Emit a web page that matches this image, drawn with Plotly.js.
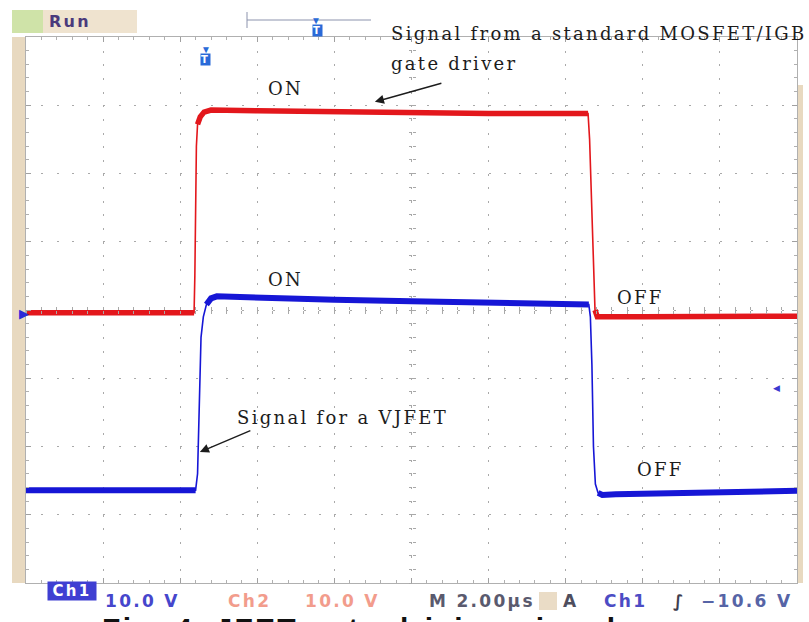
<!DOCTYPE html>
<html><head><meta charset="utf-8">
<script src="https://cdn.plot.ly/plotly-3.0.1.min.js"></script>
<style>
html,body{margin:0;padding:0;background:#fff;overflow:hidden;}
#chart{width:809px;height:622px;}
.annotation-text{letter-spacing:2.3px;}
</style></head><body><div id="chart"></div>
<script>
// Oscilloscope capture: time in µs (2 µs/div), voltage in V (10 V/div)
const redTime  = [0, 4.36, 4.38, 4.42, 4.45, 4.52, 4.62, 4.80, 6.0, 8.0, 10.0, 12.0, 14.0, 14.58, 14.62, 14.69, 14.76, 14.82, 16.0, 18.0, 20.0];
const redVolt  = [-0.4, -0.4, 5, 24, 27.2, 28.3, 29.0, 29.3, 29.2, 29.0, 28.9, 28.8, 28.8, 28.8, 25, 12, 0, -1.0, -1.0, -0.9, -0.9];
const blueTime = [0, 4.40, 4.45, 4.50, 4.54, 4.60, 4.68, 4.80, 4.95, 5.5, 6.0, 8.0, 10.0, 12.0, 14.0, 14.60, 14.64, 14.68, 14.72, 14.77, 14.84, 14.95, 15.3, 16.0, 18.0, 20.0];
const blueVolt = [-26.4, -26.4, -24, -12, -4, -1, 0.8, 1.7, 2.0, 1.9, 1.8, 1.5, 1.3, 1.1, 0.9, 0.8, -1, -8, -20, -25.5, -26.8, -27.1, -27.0, -26.9, -26.7, -26.5];

const labelText = ['ON', 'ON', 'OFF', 'OFF', 'Signal for a VJFET'];
const labelTime = [6.74, 6.74, 15.93, 16.45, 5.42];
const labelVolt = [32.4, 4.5, 1.9, -23.3, -15.7];
const labelAnchor = ['center', 'center', 'center', 'center', 'left'];

const calloutText = ['Signal from a standard MOSFET/IGB', 'gate driver'];
const arrowTime = [4.51, 9.05];
const arrowVolt = [-20.8, 30.5];

const statusText = ['10.0 V', 'Ch2', '10.0 V', 'M 2.00µs', 'A', 'Ch1', '∫', '−10.6 V'];
const statusColor = ['#4646cc', '#f29c8c', '#f29c8c', '#5a5a6e', '#4e4e5e', '#4c4cc4', '#3e3e4e', '#5664a6'];
const statusLeft = [103, 226, 303, 427, 561, 602, 671, 699];

const RANGE_T = [0, 20], RANGE_V = [-40, 40];
const X = px => (px - 26) / 771;
const Y = py => (583 - py) / 546;

// split off the flat (noisy, thick) parts of each trace from the thin edges
function flatPart(v) {
  const mx = Math.max(...v), mn = Math.min(...v);
  return v.map(a => (a >= mx - 2.6 || a <= mn + 1.5) ? a : null);
}

const traces = [
  {x: redTime, y: redVolt, mode: 'lines', line: {color: '#e3171c', width: 1.6}, hoverinfo: 'skip'},
  {x: redTime, y: flatPart(redVolt), mode: 'lines', connectgaps: false, line: {color: '#e3171c', width: 5.5}, hoverinfo: 'skip'},
  {x: blueTime, y: blueVolt, mode: 'lines', line: {color: '#1616d6', width: 1.6}, hoverinfo: 'skip'},
  {x: blueTime, y: flatPart(blueVolt), mode: 'lines', connectgaps: false, line: {color: '#1616d6', width: 6}, hoverinfo: 'skip'},
  {x: redTime, y: redVolt, xaxis: 'x2', yaxis: 'y2', mode: 'lines', opacity: 0, hoverinfo: 'skip'},
  {x: redTime, y: redVolt, xaxis: 'x3', yaxis: 'y3', mode: 'lines', opacity: 0, hoverinfo: 'skip'}
];

const serif = {family: 'DejaVu Serif, Liberation Serif, serif', size: 18, color: '#1c1c1c'};
const sans = {family: 'DejaVu Sans, sans-serif', size: 17, weight: 700};

const annotations = [];
labelText.forEach((t, i) => annotations.push({
  x: labelTime[i], y: labelVolt[i], xref: 'x', yref: 'y', text: t, showarrow: false,
  xanchor: labelAnchor[i], yanchor: 'middle', font: serif
}));
annotations.push({x: X(389), y: Y(33), xref: 'paper', yref: 'paper', text: calloutText[0], showarrow: false, xanchor: 'left', yanchor: 'middle', font: serif});
annotations.push({x: X(389), y: Y(63), xref: 'paper', yref: 'paper', text: calloutText[1], showarrow: false, xanchor: 'left', yanchor: 'middle', font: serif});
const tails = [[52, -22], [68, -19]];
arrowTime.forEach((t, i) => annotations.push({
  x: t, y: arrowVolt[i], xref: 'x', yref: 'y', text: '', showarrow: true,
  ax: tails[i][0], ay: tails[i][1], arrowhead: 2, arrowsize: 1.3, arrowwidth: 1.4, arrowcolor: '#1c1c1c', standoff: 0
}));
// status bar
annotations.push({x: X(47), y: Y(601), xref: 'paper', yref: 'paper', text: 'Ch1', showarrow: false,
  bgcolor: '#3f3fd2', width: 46, height: 16, borderpad: 1, font: Object.assign({}, sans, {color: '#ffffff', size: 15})});
statusText.forEach((t, i) => annotations.push({
  x: X(statusLeft[i]), y: Y(601), xref: 'paper', yref: 'paper', text: t, showarrow: false,
  xanchor: 'left', yanchor: 'middle', font: Object.assign({}, sans, {color: statusColor[i]})
}));
// top "Run" status
annotations.push({x: X(47), y: Y(21), xref: 'paper', yref: 'paper', text: 'Run', showarrow: false,
  xanchor: 'left', yanchor: 'middle', font: Object.assign({}, sans, {color: '#4a3a7c', size: 16})});
// markers
annotations.push({x: X(17), y: Y(313), xref: 'paper', yref: 'paper', text: '▶', showarrow: false, font: {size: 13, color: '#2a2ad8'}});
annotations.push({x: X(784), y: Y(388), xref: 'paper', yref: 'paper', text: '◀', showarrow: false, font: {size: 9, color: '#3a3ad0'}});
[[200, 41, 53], [317, 12, 24]].forEach(m => {
  annotations.push({x: X(m[0]), y: Y(m[1]), xref: 'paper', yref: 'paper', text: '▼', showarrow: false,
    font: {size: 10, color: '#2a6ad8'}, borderpad: 0});
  annotations.push({x: X(m[0]), y: Y(m[2]), xref: 'paper', yref: 'paper', text: 'T', showarrow: false, bgcolor: '#2a6ad8',
    font: {family: 'DejaVu Sans', size: 10, weight: 700, color: '#ffffff'}, borderpad: 0});
});
// caption (partly cut off by page bottom)
annotations.push({x: X(100), y: Y(610), xref: 'paper', yref: 'paper', text: 'Fig. 4. JFET gate driving signals', showarrow: false,
  xanchor: 'left', yanchor: 'top', font: {family: 'Liberation Sans, Arial, sans-serif', size: 30, weight: 700, color: '#111'}});

const shapes = [
  {type: 'rect', xref: 'paper', yref: 'paper', x0: X(12), x1: X(26), y0: Y(583), y1: Y(37), fillcolor: '#e8d9c0', line: {width: 0}, layer: 'below'},
  {type: 'rect', xref: 'paper', yref: 'paper', x0: X(797), x1: X(803), y0: Y(583), y1: Y(85), fillcolor: '#e8d9c0', line: {width: 0}, layer: 'below'},
  {type: 'rect', xref: 'paper', yref: 'paper', x0: X(12), x1: X(137), y0: Y(33), y1: Y(10), fillcolor: '#efe3cf', line: {width: 0}},
  {type: 'rect', xref: 'paper', yref: 'paper', x0: X(12), x1: X(43), y0: Y(33), y1: Y(10), fillcolor: '#cfe3a8', line: {width: 0}},
  {type: 'rect', xref: 'paper', yref: 'paper', x0: X(539), x1: X(557), y0: Y(610), y1: Y(592), fillcolor: '#eadcc6', line: {width: 0}},
  {type: 'line', xref: 'paper', yref: 'paper', x0: X(247), x1: X(371), y0: Y(20), y1: Y(20), line: {color: '#8c93ad', width: 1}},
  {type: 'line', xref: 'paper', yref: 'paper', x0: X(247), x1: X(247), y0: Y(12), y1: Y(28), line: {color: '#8c93ad', width: 1}}
];

const baseAx = {zeroline: false, showticklabels: false, fixedrange: true};
const layout = {
  width: 809, height: 622,
  margin: {l: 26, r: 12, t: 37, b: 39},
  paper_bgcolor: '#ffffff', plot_bgcolor: '#ffffff',
  showlegend: false,
  xaxis: Object.assign({}, baseAx, {range: RANGE_T, dtick: 2, tick0: 0, showgrid: true, gridcolor: '#a9a9a9', griddash: '2px,11.65px', gridwidth: 1,
    ticks: 'inside', ticklen: 5, tickcolor: '#a0a0a0', showline: true, linecolor: '#b0b0b0', linewidth: 1, mirror: 'ticks',
    minor: {dtick: 0.4, ticks: 'inside', ticklen: 3, tickcolor: '#b0b0b0', showgrid: false}}),
  yaxis: Object.assign({}, baseAx, {range: RANGE_V, dtick: 10, tick0: 0, showgrid: true, gridcolor: '#a9a9a9', griddash: '2px,13.42px', gridwidth: 1,
    ticks: 'inside', ticklen: 5, tickcolor: '#a0a0a0', showline: true, linecolor: '#b0b0b0', linewidth: 1, mirror: 'ticks',
    minor: {dtick: 2, ticks: 'inside', ticklen: 3, tickcolor: '#b0b0b0', showgrid: false}}),
  xaxis2: Object.assign({}, baseAx, {range: RANGE_T, overlaying: 'x', anchor: 'free', position: 0.5, dtick: 0.4, tick0: 0, showgrid: false, showline: false, ticks: 'outside', ticklen: 3, tickcolor: '#a8a8a8'}),
  xaxis3: Object.assign({}, baseAx, {range: RANGE_T, overlaying: 'x', anchor: 'free', position: 0.5, dtick: 0.4, tick0: 0, showgrid: false, showline: false, ticks: 'inside', ticklen: 3, tickcolor: '#a8a8a8'}),
  yaxis2: Object.assign({}, baseAx, {range: RANGE_V, overlaying: 'y', anchor: 'free', position: 0.5, dtick: 2, tick0: 0, showgrid: false, showline: false, ticks: 'outside', ticklen: 3, tickcolor: '#a8a8a8'}),
  yaxis3: Object.assign({}, baseAx, {range: RANGE_V, overlaying: 'y', anchor: 'free', position: 0.5, dtick: 2, tick0: 0, showgrid: false, showline: false, ticks: 'inside', ticklen: 3, tickcolor: '#a8a8a8'}),
  annotations: annotations,
  shapes: shapes
};

Plotly.newPlot('chart', traces, layout, {displayModeBar: false, staticPlot: true});
</script></body></html>
